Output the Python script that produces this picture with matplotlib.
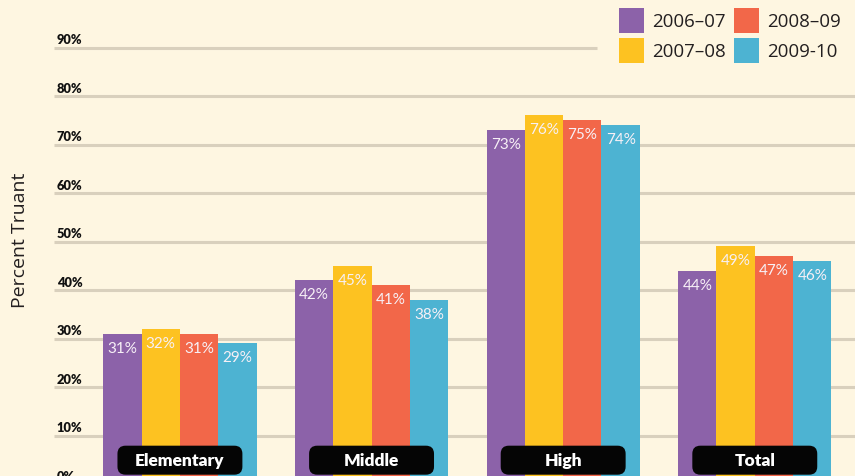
import matplotlib.pyplot as plt
from matplotlib.patches import FancyBboxPatch, Rectangle

# Truancy rate by school level and school year
levels = ['Elementary', 'Middle', 'High', 'Total']
seasons = ['2006–07', '2007–08', '2008–09', '2009-10']
rate_0607 = [31, 42, 73, 44]
rate_0708 = [32, 45, 76, 49]
rate_0809 = [31, 41, 75, 47]
rate_0910 = [29, 38, 74, 46]
grid_levels = [0, 10, 20, 30, 40, 50, 60, 70, 80, 90]

series = [rate_0607, rate_0708, rate_0809, rate_0910]
colors = ['#8C62A9', '#FDC221', '#F26749', '#4DB3D2']
bg = '#FEF6E1'
grid_color = '#D9D0BD'
text_dark = '#231F20'
narrow = ['Lato', 'DejaVu Sans']
body = ['Open Sans', 'DejaVu Sans']

W, H = 855, 477


def fig_xy(px, py):
    return px / W, 1 - py / H


fig = plt.figure(figsize=(W / 100, H / 100), dpi=100, facecolor=bg)
ax = fig.add_axes([0, -8 / H, 1, 485 / H])
ax.set_facecolor(bg)
ax.set_xlim(-0.939, 3.523)
ax.set_ylim(0, 100)
ax.axis('off')

# horizontal guide lines with their percent labels sitting on top
for g in grid_levels:
    right = 2.177 if g == 90 else 3.6
    ax.hlines(g, -0.657, right, color=grid_color, lw=2.2, zorder=1)
    ax.text(-0.643, g + 0.5, f'{g}%', ha='left', va='bottom', fontsize=9.3,
            fontweight='heavy', family=narrow, color='#111111', zorder=1)

width = 0.2
x = list(range(len(levels)))
for i, (vals, color, season) in enumerate(zip(series, colors, seasons)):
    xs = [xi + (i - 1.5) * width for xi in x]
    ax.bar(xs, vals, width=width, color=color, zorder=2, label=season)
    for xi, v in zip(xs, vals):
        ax.annotate(f'{v}%', (xi, v), xytext=(0, -5), textcoords='offset points',
                    ha='center', va='top', color='#F7F0F6', fontsize=11,
                    family=narrow, zorder=4)

# black rounded tags with the school level names
box_w, box_h, box_y = 0.652, 5.98, 1.92
for xi, name in zip(x, levels):
    tag = FancyBboxPatch((xi - box_w / 2, box_y), box_w, box_h,
                         boxstyle='round,pad=0,rounding_size=0.042',
                         mutation_aspect=39.5, fc='#050505', ec='none', zorder=3)
    ax.add_patch(tag)
    ax.text(xi, box_y + box_h / 2, name, ha='center', va='center', color='white',
            fontsize=12.5, fontweight='heavy', family=narrow, zorder=4)

fig.text(*fig_xy(20, 240), 'Percent Truant', rotation=90, ha='center',
         va='center', fontsize=14, family=body, color=text_dark)

# legend: two columns of square swatches
legend_spots = [(619, 9), (619, 39), (734, 9), (734, 39)]
for (lx, ly), color, season in zip(legend_spots, colors, seasons):
    x0, y0 = fig_xy(lx, ly + 25)
    fig.add_artist(Rectangle((x0, y0), 25 / W, 25 / H, transform=fig.transFigure,
                             fc=color, ec='none'))
    fig.text(*fig_xy(lx + 33, ly + 13), season, ha='left', va='center',
             fontsize=13.5, family=body, color=text_dark)

fig.savefig('out.png', dpi=100, facecolor=bg)
